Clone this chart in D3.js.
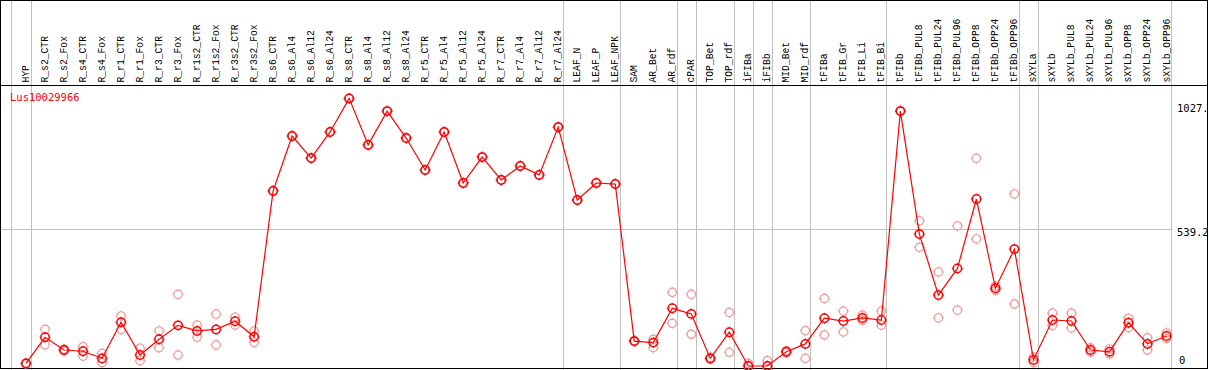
<!DOCTYPE html>
<html lang="en">
<head>
    <meta charset="UTF-8">
    <title>Lus10029966</title>
    <script src="https://cdn.jsdelivr.net/npm/d3@7"></script>
    <style>
        body { margin: 0; background: #fff; }
        text { font-family: "DejaVu Sans Mono", monospace; font-size: 10px; }
        text.sample { font-family: "Liberation Mono", monospace; font-size: 11px; }
    </style>
</head>
<body>
<svg id="chart" width="1209" height="370"></svg>
<script>
    // sample names (one column each)
    let samples = ["HYP", "R_s2_CTR", "R_s2_Fox", "R_s4_CTR", "R_s4_Fox", "R_r1_CTR", "R_r1_Fox",
        "R_r3_CTR", "R_r3_Fox", "R_r1s2_CTR", "R_r1s2_Fox", "R_r3s2_CTR", "R_r3s2_Fox",
        "R_s6_CTR", "R_s6_Al4", "R_s6_Al12", "R_s6_Al24", "R_s8_CTR", "R_s8_Al4", "R_s8_Al12",
        "R_s8_Al24", "R_r5_CTR", "R_r5_Al4", "R_r5_Al12", "R_r5_Al24", "R_r7_CTR", "R_r7_Al4",
        "R_r7_Al12", "R_r7_Al24", "LEAF_N", "LEAF_P", "LEAF_NPK", "SAM", "AR_Bet", "AR_rdf",
        "cPAR", "TOP_Bet", "TOP_rdf", "iFIBa", "iFIBb", "MID_Bet", "MID_rdf", "tFIBa",
        "tFIB_Gr", "tFIB_Li", "tFIB_Bi", "tFIBb", "tFIBb_PUL8", "tFIBb_PUL24", "tFIBb_PUL96",
        "tFIBb_OPP8", "tFIBb_OPP24", "tFIBb_OPP96", "sXYLa", "sXYLb", "sXYLb_PUL8",
        "sXYLb_PUL24", "sXYLb_PUL96", "sXYLb_OPP8", "sXYLb_OPP24", "sXYLb_OPP96"];

    // mean expression
    let means = [10, 113, 63, 58, 30, 172, 43, 105, 160, 138, 144, 176, 115,
        689, 905, 818, 921, 1053, 870, 1003, 897, 771, 921, 720, 822, 732, 787, 752, 940,
        653, 720, 716, 98, 92, 227, 205, 30, 133, 0, 0, 56, 87, 188,
        177, 189, 181, 1003, 519, 279, 384, 657, 306, 460, 24, 181, 177,
        63, 56, 170, 87, 118];

    // replicate values
    let replicates = [[8, 12], [144, 83], [66, 60], [76, 39], [50, 13], [197, 144], [70, 21],
        [138, 72], [282, 43], [161, 113], [204, 83], [192, 161], [138, 93],
        [689, 689], [905, 905], [818, 818], [921, 921], [1053, 1053], [870, 870], [1003, 1003],
        [897, 897], [771, 771], [921, 921], [720, 720], [822, 822], [732, 732], [787, 787],
        [752, 752], [940, 940], [653, 653], [720, 720], [716, 716],
        [100, 96], [105, 72], [290, 168], [282, 125], [34, 27], [211, 54], [10, 0], [21, 0],
        [60, 52], [139, 30], [266, 122], [216, 134], [200, 180], [216, 161], [1003, 1003],
        [571, 467], [370, 189], [551, 220], [817, 500], [314, 298], [677, 244], [35, 14],
        [208, 160], [208, 150], [72, 55], [67, 47], [188, 151], [111, 63], [130, 108]];

    // dividers after these columns (-1 = left edge)
    let groupEnds = [-1, 0, 28, 31, 34, 35, 37, 38, 39, 41, 45, 52, 53, 60];

    // y axis labels
    let yTicks = [0, 539.2, 1027];
    let yTickLabels = ["0", "539.2", "1027."];

    let svg = d3.select('svg#chart');
    let H = 370;
    let headerBottom = 85.5;

    let xScale = d3.scaleLinear().domain([0, samples.length - 1]).range([26, 1166.5]);
    let yScale = d3.scaleLinear().domain([0, 1027]).range([366, 105]);

    // grey dividers
    svg.selectAll('line.div')
        .data(groupEnds)
        .enter()
        .append('line')
        .attr('class', 'div')
        .attr('x1', function(d){return Math.round(xScale(d) + 4.5) + 0.5;})
        .attr('x2', function(d){return Math.round(xScale(d) + 4.5) + 0.5;})
        .attr('y1', 0).attr('y2', H)
        .style('stroke', '#c0c0c0').style('stroke-width', 1);

    // grey horizontal line at the middle tick
    svg.append('line')
        .attr('x1', 0).attr('x2', Math.round(xScale(60) + 4.5) + 0.5)
        .attr('y1', Math.round(yScale(539.2)) + 0.5).attr('y2', Math.round(yScale(539.2)) + 0.5)
        .style('stroke', '#c0c0c0');

    // frame + header separator
    svg.append('rect')
        .attr('x', 0.5).attr('y', 0.5).attr('width', 1207).attr('height', 368)
        .style('fill', 'none').style('stroke', '#000');
    svg.append('line')
        .attr('x1', 0).attr('x2', 1208).attr('y1', headerBottom).attr('y2', headerBottom)
        .style('stroke', '#000');

    // rotated sample labels (squeezed along the text a little)
    svg.selectAll('text.sample')
        .data(samples)
        .enter()
        .append('text')
        .attr('class', 'sample')
        .attr('transform', function(d, i){return 'translate(' + (Math.round(xScale(i)) + 3) + ',' + 82.5 + ') rotate(-90) scale(0.88,1)';})
        .text(function(d){return d;});

    // gene name
    svg.append('text')
        .attr('x', 10).attr('y', 101)
        .style('fill', '#ff0000')
        .style('font-size', '10.5px')
        .text('Lus10029966');

    // y labels on the right
    svg.selectAll('text.ylab')
        .data(yTicks)
        .enter()
        .append('text')
        .attr('class', 'ylab')
        .attr('x', function(d, i){return i == 0 ? 1179 : 1177;})
        .attr('y', function(d, i){return i == 0 ? 364 : yScale(d) + 7;})
        .style('font-size', '10.5px')
        .text(function(d, i){return yTickLabels[i];});

    // marker: round circle with four tiny ticks
    function marker(g, colour, sw) {
        g.append('circle').attr('r', 4.2)
            .style('fill', 'none').style('stroke', colour).style('stroke-width', sw);
        [[0, -4, 0, -5.5], [0, 4, 0, 5.5], [-4, 0, -5.5, 0], [4, 0, 5.5, 0]].forEach(function(t){
            g.append('line')
                .attr('x1', t[0]).attr('y1', t[1]).attr('x2', t[2]).attr('y2', t[3])
                .style('stroke', colour).style('stroke-width', 1);
        });
    }

    // replicate points
    let repData = [];
    replicates.forEach(function(r, i){
        r.forEach(function(v){repData.push({i: i, v: v});});
    });
    svg.selectAll('g.rep')
        .data(repData)
        .enter()
        .append('g')
        .attr('class', 'rep')
        .attr('transform', function(d){return 'translate(' + xScale(d.i) + ',' + yScale(d.v) + ')';})
        .each(function(){marker(d3.select(this), '#f09a9a', 1.2);});

    // mean line
    let line = d3.line()
        .x(function(d, i){return xScale(i);})
        .y(function(d){return yScale(d);});
    svg.append('path')
        .datum(means)
        .attr('d', line)
        .style('fill', 'none').style('stroke', '#ff0000').style('stroke-width', 1.2);

    // mean points
    svg.selectAll('g.mean')
        .data(means)
        .enter()
        .append('g')
        .attr('class', 'mean')
        .attr('transform', function(d, i){return 'translate(' + xScale(i) + ',' + yScale(d) + ')';})
        .each(function(){marker(d3.select(this), '#ff0000', 1.5);});
</script>
</body>
</html>
